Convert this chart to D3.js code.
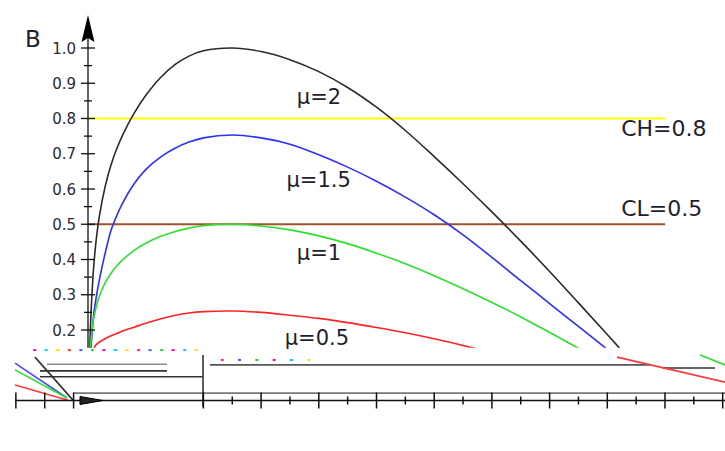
<!DOCTYPE html>
<html><head><meta charset="utf-8">
<script src="https://cdn.jsdelivr.net/npm/d3@7/dist/d3.min.js"></script>
<style>body{margin:0;background:#fff}svg{display:block}</style>
</head><body>
<svg id="c" width="725" height="451"></svg>
<script>
// ---- data ----
const tGrid = [0.02, 0.035, 0.05, 0.075, 0.1, 0.15, 0.2, 0.3, 0.4, 0.5, 0.6, 0.8, 1.0, 1.25, 1.5, 1.75, 2.0, 2.5, 3.0, 3.5, 4.0, 4.5, 5.0, 5.5, 6.0, 6.5, 7.0, 7.5, 8.0, 8.5, 9.0, 9.5];
const mu2  = [0.06, 0.17, 0.24, 0.32, 0.383, 0.467, 0.526, 0.609, 0.669, 0.715, 0.753, 0.815, 0.865, 0.915, 0.952, 0.977, 0.992, 1.0, 0.99, 0.967, 0.933, 0.888, 0.832, 0.766, 0.692, 0.615, 0.535, 0.452, 0.366, 0.277, 0.187, 0.096];
const mu15 = [0.05, 0.10, 0.145, 0.20, 0.245, 0.30, 0.345, 0.42, 0.483, 0.525, 0.56, 0.615, 0.655, 0.69, 0.715, 0.733, 0.745, 0.753, 0.745, 0.727, 0.697, 0.662, 0.622, 0.577, 0.527, 0.47, 0.406, 0.34, 0.275, 0.21, 0.145, 0.08];
const mu1  = [0.085, 0.136, 0.169, 0.207, 0.233, 0.271, 0.297, 0.335, 0.361, 0.382, 0.399, 0.426, 0.446, 0.465, 0.479, 0.489, 0.496, 0.50, 0.495, 0.484, 0.467, 0.445, 0.418, 0.388, 0.354, 0.317, 0.278, 0.237, 0.193, 0.148, 0.10, 0.05];
const mu05 = [0.10, 0.115, 0.125, 0.138, 0.148, 0.16, 0.166, 0.176, 0.184, 0.19, 0.197, 0.208, 0.219, 0.231, 0.241, 0.248, 0.252, 0.254, 0.25, 0.242, 0.233, 0.221, 0.207, 0.192, 0.175, 0.156, 0.136, 0.116, 0.096, 0.076, 0.056, 0.036];
const seriesNames = ["μ=2", "μ=1.5", "μ=1", "μ=0.5"];
const seriesColors = ["#2a2a2a", "#2e2eff", "#2ee02e", "#ff2424"];
const seriesLabelT = [3.62, 3.44, 3.62, 3.41];
const seriesLabelB = [0.841, 0.606, 0.399, 0.157];
const levelNames = ["CH=0.8", "CL=0.5"];
const levelValues = [0.8, 0.5];
const levelColors = ["#ffff00", "#a0522d"];
const yMajorTicks = [0.2, 0.3, 0.4, 0.5, 0.6, 0.7, 0.8, 0.9, 1.0];
const yTickLabels = ["0.2", "0.3", "0.4", "0.5", "0.6", "0.7", "0.8", "0.9", "1.0"];
const yMinorTicks = [0.25, 0.35, 0.45, 0.55, 0.65, 0.75, 0.85, 0.95];
const xMajorTicks = [-1.25, -0.75, -0.25, 2, 3, 4, 5, 6, 7, 8, 9, 10, 11];
const xMinorTicks = [2.5, 3.5, 4.5, 5.5, 6.5, 7.5, 8.5, 9.5, 10.5];
// corrupted lower band of the original picture (segments in data units t,B)
const glitchSegs = [
  [-0.711, 0.103, 1.369, 0.103, "#8a8a8a"],
  [-0.832, 0.084, 1.369, 0.084, "#333"],
  [-0.832, 0.0675, 1.993, 0.0675, "#333"],
  [2.114, 0.101, 9.74, 0.101, "#555"],
  [9.965, 0.092, 10.867, 0.092, "#333"],
  [-0.26, 0.021, 11.04, 0.021, "#777"],
  [1.993, 0.129, 1.993, -0.018, "#333"],
  [-0.26, 0.001, -0.919, 0.123, "#333"],
  [-0.364, 0.007, -1.265, 0.106, "#4a4aff"],
  [-0.364, 0.007, -1.265, 0.087, "#2ee02e"],
  [-0.347, 0.001, -1.265, 0.044, "#ff3a3a"],
  [9.168, 0.123, 11.04, 0.052, "#ff3a3a"],
  [10.61, 0.129, 11.04, 0.101, "#2ee02e"]
];
const glitchDotT = [-0.95, -0.75, -0.55, -0.35, -0.15, 0.05, 0.25, 0.45, 0.65, 0.85, 1.05, 1.25, 1.45, 1.65, 1.85, 2.3, 2.6, 2.9, 3.2, 3.5, 3.8];
const glitchDotB = [0.143, 0.143, 0.143, 0.143, 0.143, 0.143, 0.143, 0.143, 0.143, 0.143, 0.143, 0.143, 0.143, 0.143, 0.143, 0.115, 0.115, 0.115, 0.115, 0.115, 0.115];
const dotColors = ["#f0a", "#0cf", "#fd0", "#f33", "#36f", "#3c3"];

// ---- scales ----
const x = d3.scaleLinear().domain([0, 10]).range([88, 665]);
const y = d3.scaleLinear().domain([0, 1]).range([400.5, 48]);
const svg = d3.select("#c");
const font = "'DejaVu Sans', Verdana, sans-serif";

svg.append("defs").append("clipPath").attr("id", "clip")
  .append("rect").attr("x", 0).attr("y", 0).attr("width", 725).attr("height", y(0.15));

// level lines
levelValues.forEach((v, i) => {
  svg.append("line").attr("x1", x(0)).attr("x2", x(10)).attr("y1", y(v)).attr("y2", y(v))
    .attr("stroke", levelColors[i]).attr("stroke-width", 2);
});

// curves
const series = [mu2, mu15, mu1, mu05];
const line = d3.line().x((d, i) => x(tGrid[i])).y(d => y(d)).curve(d3.curveCatmullRom.alpha(0.5));
series.forEach((s, i) => {
  svg.append("path").attr("d", line(s)).attr("fill", "none")
    .attr("stroke", seriesColors[i]).attr("stroke-width", 1.6).attr("clip-path", "url(#clip)");
});

// y axis
svg.append("line").attr("x1", x(0)).attr("x2", x(0)).attr("y1", y(0.15)).attr("y2", 24)
  .attr("stroke", "#111").attr("stroke-width", 1.3);
svg.append("path").attr("d", `M${x(0)},15 L${x(0) + 6.5},42 L${x(0)},38 L${x(0) - 6.5},42 Z`).attr("fill", "#000");
yMajorTicks.forEach((v, i) => {
  svg.append("line").attr("x1", x(0) - 7).attr("x2", x(0) + 7).attr("y1", y(v)).attr("y2", y(v))
    .attr("stroke", "#111").attr("stroke-width", 1.3);
  svg.append("text").attr("x", 76).attr("y", y(v) + 5.5).attr("text-anchor", "end")
    .attr("font-family", font).attr("font-size", 15).attr("fill", "#2a2a3a").text(yTickLabels[i]);
});
yMinorTicks.forEach(v => {
  svg.append("line").attr("x1", x(0) - 4).attr("x2", x(0) + 4).attr("y1", y(v)).attr("y2", y(v))
    .attr("stroke", "#111").attr("stroke-width", 1.3);
});
svg.append("text").attr("x", 25).attr("y", 47).attr("font-family", font).attr("font-size", 23)
  .attr("fill", "#1e1e2e").text("B");

// glitch band
glitchSegs.forEach(g => {
  svg.append("line").attr("x1", x(g[0])).attr("y1", y(g[1])).attr("x2", x(g[2])).attr("y2", y(g[3]))
    .attr("stroke", g[4]).attr("stroke-width", 1.6);
});
glitchDotT.forEach((t, i) => {
  svg.append("rect").attr("x", x(t)).attr("y", y(glitchDotB[i]) - 1).attr("width", 3).attr("height", 2)
    .attr("fill", dotColors[i % dotColors.length]);
});

// bottom axis
svg.append("line").attr("x1", 15).attr("x2", 725).attr("y1", y(0)).attr("y2", y(0))
  .attr("stroke", "#111").attr("stroke-width", 1.5);
xMajorTicks.forEach(t => {
  svg.append("line").attr("x1", x(t)).attr("x2", x(t)).attr("y1", y(0) - 8).attr("y2", y(0) + 8)
    .attr("stroke", "#111").attr("stroke-width", 1.5);
});
xMinorTicks.forEach(t => {
  svg.append("line").attr("x1", x(t)).attr("x2", x(t)).attr("y1", y(0) - 4).attr("y2", y(0) + 4)
    .attr("stroke", "#111").attr("stroke-width", 1.5);
});
svg.append("path").attr("d", `M${x(-0.139)},${y(0) - 4} L${x(0.26)},${y(0)} L${x(-0.139)},${y(0) + 4} Z`)
  .attr("fill", "#222").attr("stroke", "#000");

// series labels
seriesNames.forEach((n, i) => {
  svg.append("text").attr("x", x(seriesLabelT[i])).attr("y", y(seriesLabelB[i]))
    .attr("font-family", font).attr("font-size", 21).attr("fill", "#1e1e2e").text(n);
});
// level labels
levelNames.forEach((n, i) => {
  svg.append("text").attr("x", x(9.24)).attr("y", y(levelValues[i]) + (i === 0 ? 17 : -8))
    .attr("font-family", font).attr("font-size", 22).attr("fill", "#1e1e2e").text(n);
});
</script>
</body></html>
